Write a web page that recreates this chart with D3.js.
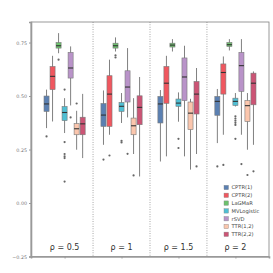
<!DOCTYPE html>
<meta charset="utf-8">
<style>
  body { margin: 0; background: #fff; }
  text { font-family: "DejaVu Sans", sans-serif; }
</style>
<script src="https://d3js.org/d3.v7.min.js"></script>
<div id="my_dataviz"></div>
<script>

// groups along x and the methods drawn inside each group
var groups = ["ρ = 0.5", "ρ = 1", "ρ = 1.5", "ρ = 2"];
var methods = ["CPTR(1)", "CPTR(2)", "LaGMaR", "MVLogistic", "rSVD", "TTR(1,2)", "TTR(2,2)"];
var colors = ["#5b80b2", "#f0575f", "#6cc16d", "#4fbfd4", "#b993c9", "#fbc6ad", "#cc5475"];
var yTicks = [-0.25, 0, 0.25, 0.5, 0.75];

// box stats per group: [whisker low, q1, median, q3, whisker high]
var cptr1 = [[0.35, 0.428, 0.463, 0.50, 0.53], [0.272, 0.358, 0.411, 0.465, 0.526],
             [0.194, 0.374, 0.463, 0.498, 0.528], [0.28, 0.41, 0.475, 0.498, 0.533]];
var cptr2 = [[0.381, 0.53, 0.592, 0.638, 0.688], [0.319, 0.358, 0.509, 0.595, 0.67],
             [0.218, 0.466, 0.56, 0.638, 0.688], [0.319, 0.509, 0.61, 0.65, 0.685]];
var lagmar = [[0.70, 0.724, 0.735, 0.75, 0.794], [0.708, 0.724, 0.735, 0.747, 0.774],
              [0.708, 0.729, 0.738, 0.747, 0.766], [0.713, 0.732, 0.74, 0.75, 0.766]];
var mvlog = [[0.327, 0.385, 0.423, 0.451, 0.49], [0.374, 0.428, 0.452, 0.47, 0.514],
             [0.38, 0.452, 0.467, 0.486, 0.517], [0.451, 0.456, 0.475, 0.49, 0.514]];
var rsvd = [[0.456, 0.584, 0.631, 0.704, 0.732], [0.40, 0.472, 0.542, 0.618, 0.724],
            [0.218, 0.479, 0.589, 0.678, 0.735], [0.319, 0.522, 0.642, 0.704, 0.766]];
var ttr12 = [[0.249, 0.319, 0.347, 0.371, 0.431], [0.229, 0.319, 0.361, 0.397, 0.49],
             [0.156, 0.343, 0.42, 0.472, 0.487], [0.249, 0.381, 0.455, 0.479, 0.514]];
var ttr22 = [[0.21, 0.319, 0.37, 0.401, 0.51], [0.124, 0.366, 0.447, 0.501, 0.589],
             [0.229, 0.416, 0.509, 0.568, 0.631], [0.272, 0.459, 0.56, 0.607, 0.615]];

// outliers per group
var cptr1Out = [[0.311], [0.203], [], [0.171]];
var cptr2Out = [[], [0.222], [], [0.178]];
var lagmarOut = [[0.67], [0.69, 0.68], [], []];
var mvlogOut = [[0.53, 0.285, 0.229, 0.218, 0.21, 0.10], [0.291, 0.283], [0.30, 0.257],
                [0.405, 0.395, 0.385, 0.375, 0.365, 0.30]];
var rsvdOut = [[0.40], [0.23], [], [0.182]];
var ttr12Out = [[0.465], [0.129], [], [0.131]];
var ttr22Out = [[], [], [0.171], [0.148]];

var stats = [cptr1, cptr2, lagmar, mvlog, rsvd, ttr12, ttr22];
var outs = [cptr1Out, cptr2Out, lagmarOut, mvlogOut, rsvdOut, ttr12Out, ttr22Out];

var W = 273, H = 273;
var svg = d3.select("#my_dataviz")
  .append("svg")
    .attr("width", W)
    .attr("height", H);

var x = d3.scaleLinear().domain([-0.59, 3.59]).range([31, 269]);
var y = d3.scaleLinear().domain([-0.25, 0.846]).range([256.5, 22]);

// position of each method inside a group
var dodge = d3.scaleBand().domain(methods).range([-0.37, 0.37]);
var boxW = x(dodge.bandwidth() * 0.84) - x(0);

// frame
svg.append("rect")
  .attr("x", x(-0.59)).attr("y", y(0.846))
  .attr("width", x(3.59) - x(-0.59)).attr("height", y(-0.25) - y(0.846))
  .attr("fill", "none").attr("stroke", "#808080").attr("stroke-width", 0.8);

// group separators
svg.selectAll(".sep")
  .data([0.5, 1.5, 2.5])
  .enter().append("line")
    .attr("x1", d => x(d)).attr("x2", d => x(d))
    .attr("y1", y(0.846)).attr("y2", y(-0.25))
    .attr("stroke", "#777").attr("stroke-width", 0.8)
    .attr("stroke-dasharray", "0.8,1.6");

// y axis
var yAxis = svg.append("g")
  .attr("transform", "translate(" + x(-0.59) + ",0)")
  .call(d3.axisLeft(y).tickValues(yTicks).tickFormat(d3.format(".2f")).tickSize(2).tickPadding(2));
yAxis.select(".domain").attr("stroke", "#999").attr("stroke-width", 1.6);
yAxis.selectAll(".tick line").attr("stroke", "#999");
yAxis.selectAll(".tick text").attr("fill", "#777").style("font-size", "4.8px");

// x axis ticks (no labels)
var xAxis = svg.append("g")
  .attr("transform", "translate(0," + y(-0.25) + ")")
  .call(d3.axisBottom(x).tickValues([0, 1, 2, 3]).tickFormat("").tickSize(2));
xAxis.select(".domain").attr("stroke", "#999").attr("stroke-width", 1.6);
xAxis.selectAll(".tick line").attr("stroke", "#999");

// boxes
methods.forEach(function(m, mi) {
  groups.forEach(function(g, gi) {
    var s = stats[mi][gi];
    var cx = x(gi + dodge(m) + dodge.bandwidth() / 2);
    var gg = svg.append("g");
    gg.append("line")
      .attr("x1", cx).attr("x2", cx)
      .attr("y1", y(s[0])).attr("y2", y(s[4]))
      .attr("stroke", "#808080").attr("stroke-width", 1);
    gg.append("rect")
      .attr("x", cx - boxW / 2).attr("width", boxW)
      .attr("y", y(s[3])).attr("height", y(s[1]) - y(s[3]))
      .attr("fill", colors[mi]).attr("stroke", "#7a7a7a").attr("stroke-width", 0.6);
    gg.append("line")
      .attr("x1", cx - boxW / 2).attr("x2", cx + boxW / 2)
      .attr("y1", y(s[2])).attr("y2", y(s[2]))
      .attr("stroke", "#333").attr("stroke-width", 1.1);
    gg.selectAll("circle")
      .data(outs[mi][gi])
      .enter().append("circle")
        .attr("cx", cx).attr("cy", d => y(d))
        .attr("r", 1.1).attr("fill", "#666");
  });
});

// group labels
svg.selectAll(".glab")
  .data(groups)
  .enter().append("text")
    .attr("x", (d, i) => x(i)).attr("y", 250)
    .attr("text-anchor", "middle")
    .attr("fill", "#333")
    .style("font-size", "8px")
    .text(d => d);

// legend
var leg = svg.append("g").attr("transform", "translate(224,187.5)");
methods.forEach(function(m, i) {
  leg.append("rect")
    .attr("x", 0).attr("y", i * 7.8 - 2.2)
    .attr("width", 4.5).attr("height", 4.4)
    .attr("fill", colors[i]).attr("stroke", "#888").attr("stroke-width", 0.4);
  leg.append("text")
    .attr("x", 7.5).attr("y", i * 7.8 + 1.8)
    .attr("fill", "#444")
    .style("font-size", "5.2px")
    .text(m);
});

</script>
